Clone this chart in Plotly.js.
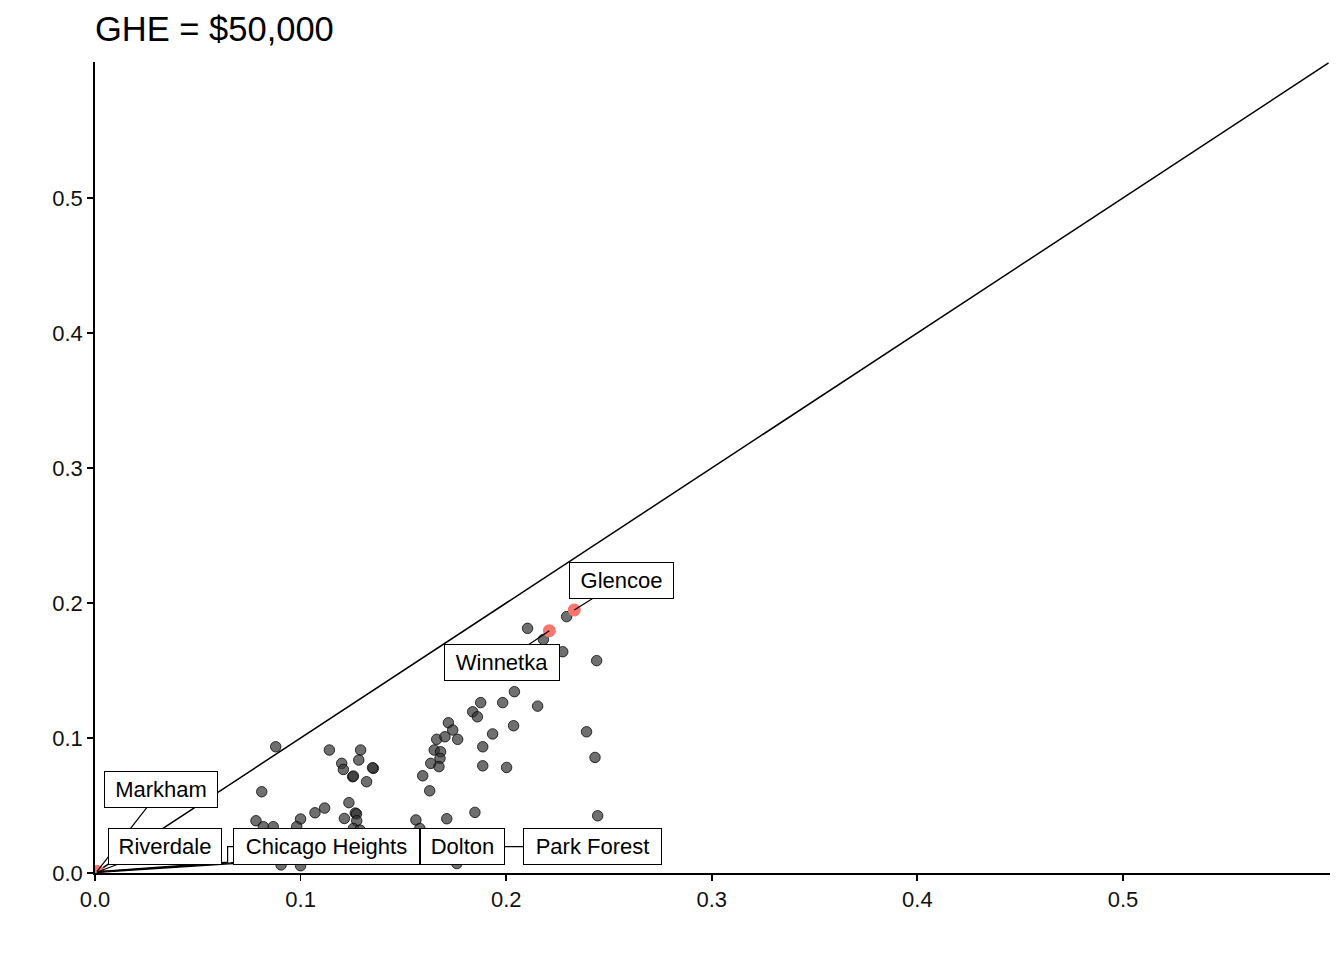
<!DOCTYPE html>
<html>
<head>
<meta charset="utf-8">
<script src="https://cdn.plot.ly/plotly-3.0.1.min.js"></script>
<style>
  html, body { margin: 0; padding: 0; background: #fff; }
  #plot { width: 1344px; height: 960px; }
</style>
</head>
<body>
<div id="plot"></div>
<script>
// grey points (all towns)
const townX = [0.2104, 0.2294, 0.2181, 0.2275, 0.2440, 0.2040, 0.1983, 0.1876, 0.2153, 0.1837,
               0.1860, 0.1719, 0.2036, 0.1740, 0.1662, 0.1702, 0.1764, 0.1934, 0.2391, 0.1886,
               0.1650, 0.1681, 0.1678, 0.1633, 0.1673, 0.1886, 0.2002, 0.2432, 0.1594, 0.1628,
               0.1848, 0.1711, 0.1561, 0.2445, 0.1580, 0.0879, 0.1140, 0.1292, 0.1283, 0.1200,
               0.1208, 0.1253, 0.1257, 0.1354, 0.1350, 0.1321, 0.0811, 0.1235, 0.1117, 0.1070,
               0.1000, 0.0783, 0.1213, 0.1266, 0.1272, 0.1273, 0.0819, 0.0867, 0.0981, 0.1257,
               0.1289, 0.1000, 0.1760, 0.0905, 0.1400, 0.1900, 0.0950];
const townY = [0.1812, 0.1899, 0.1730, 0.1639, 0.1573, 0.1343, 0.1262, 0.1262, 0.1236, 0.1194,
               0.1157, 0.1113, 0.1091, 0.1059, 0.0990, 0.1009, 0.0990, 0.1030, 0.1046, 0.0935,
               0.0911, 0.0898, 0.0849, 0.0812, 0.0788, 0.0794, 0.0782, 0.0856, 0.0720, 0.0609,
               0.0449, 0.0402, 0.0393, 0.0424, 0.0330, 0.0935, 0.0911, 0.0911, 0.0837, 0.0812,
               0.0767, 0.0713, 0.0718, 0.0775, 0.0780, 0.0676, 0.0602, 0.0521, 0.0481, 0.0446,
               0.0400, 0.0387, 0.0404, 0.0444, 0.0438, 0.0387, 0.0343, 0.0343, 0.0343, 0.0330,
               0.0318, 0.0054, 0.0070, 0.0060, 0.0150, 0.0200, 0.0200];

// highlighted towns
const hiNames = ["Glencoe", "Winnetka", "Markham", "Riverdale", "Chicago Heights", "Dolton", "Park Forest"];
const hiX = [0.2331, 0.2210, 0.0010, 0.0008, 0.0015, 0.0010, 0.0012];
const hiY = [0.1948, 0.1795, 0.0012, 0.0006, 0.0008, 0.0004, 0.0010];

const xTicks = [0, 0.1, 0.2, 0.3, 0.4, 0.5];
const yTicks = [0, 0.1, 0.2, 0.3, 0.4, 0.5];

// where the repelled labels sit, plus elbows for the segments
const labelPos = {
  "Glencoe":         {x: 0.2561, y: 0.2167, w: 93,  via: []},
  "Winnetka":        {x: 0.1980, y: 0.1559, w: 104, via: []},
  "Markham":         {x: 0.0321, y: 0.0619, w: 102, via: []},
  "Riverdale":       {x: 0.0340, y: 0.0196, w: 102, via: []},
  "Chicago Heights": {x: 0.1126, y: 0.0196, w: 175, via: [[0.066, 0.0075]]},
  "Dolton":          {x: 0.1787, y: 0.0196, w: 73,  via: [[0.069, 0.0072]]},
  "Park Forest":     {x: 0.2420, y: 0.0196, w: 127, via: [[0.0645, 0.0196], [0.0645, 0.0080]]}
};

const font = "Liberation Sans, Arial, sans-serif";

const traces = [];

// y = x reference line
traces.push({
  x: [0, 0.6], y: [0, 0.6],
  type: "scatter", mode: "lines",
  line: {color: "#000", width: 1.5},
  hoverinfo: "skip", showlegend: false
});

traces.push({
  x: townX, y: townY,
  type: "scatter", mode: "markers",
  marker: {size: 10.5, color: "rgba(50,50,50,0.7)", line: {color: "rgba(0,0,0,0.75)", width: 1}},
  showlegend: false
});

traces.push({
  x: hiX, y: hiY, text: hiNames,
  type: "scatter", mode: "markers",
  marker: {size: 13, color: "#F8766D"},
  showlegend: false
});

// label segments
hiNames.forEach((name, i) => {
  const p = labelPos[name];
  const xs = [p.x].concat(p.via.map(v => v[0]), [hiX[i]]);
  const ys = [p.y].concat(p.via.map(v => v[1]), [hiY[i]]);
  traces.push({
    x: xs, y: ys, type: "scatter", mode: "lines",
    line: {color: "#000", width: 1.2},
    hoverinfo: "skip", showlegend: false
  });
});

const annotations = hiNames.map(name => {
  const p = labelPos[name];
  return {
    x: p.x, y: p.y, xref: "x", yref: "y",
    text: name, showarrow: false,
    font: {family: font, size: 22, color: "#000"},
    bgcolor: "#fff", bordercolor: "#000", borderwidth: 1, borderpad: 5,
    width: p.w, height: 25, align: "center"
  };
});

const axisBase = {
  range: [0, 0.6007],
  showgrid: false, zeroline: false,
  showline: true, linecolor: "#000", linewidth: 1.8,
  ticks: "outside", ticklen: 6, tickwidth: 1.8, tickcolor: "#000",
  tickformat: ".1f",
  tickfont: {family: font, size: 22, color: "#111"},
  fixedrange: true
};

const layout = {
  width: 1344, height: 960,
  margin: {l: 95, r: 14, t: 62, b: 87},
  paper_bgcolor: "#fff", plot_bgcolor: "#fff",
  title: {
    text: "GHE = $50,000",
    font: {family: font, size: 34.5, color: "#000"},
    x: 95 / 1344, xanchor: "left", xref: "container",
    y: 1 - 29 / 960, yanchor: "middle", yref: "container"
  },
  xaxis: Object.assign({}, axisBase, {tickvals: xTicks}),
  yaxis: Object.assign({}, axisBase, {tickvals: yTicks}),
  annotations: annotations,
  showlegend: false
};

Plotly.newPlot("plot", traces, layout, {displayModeBar: false, staticPlot: true});
</script>
</body>
</html>
